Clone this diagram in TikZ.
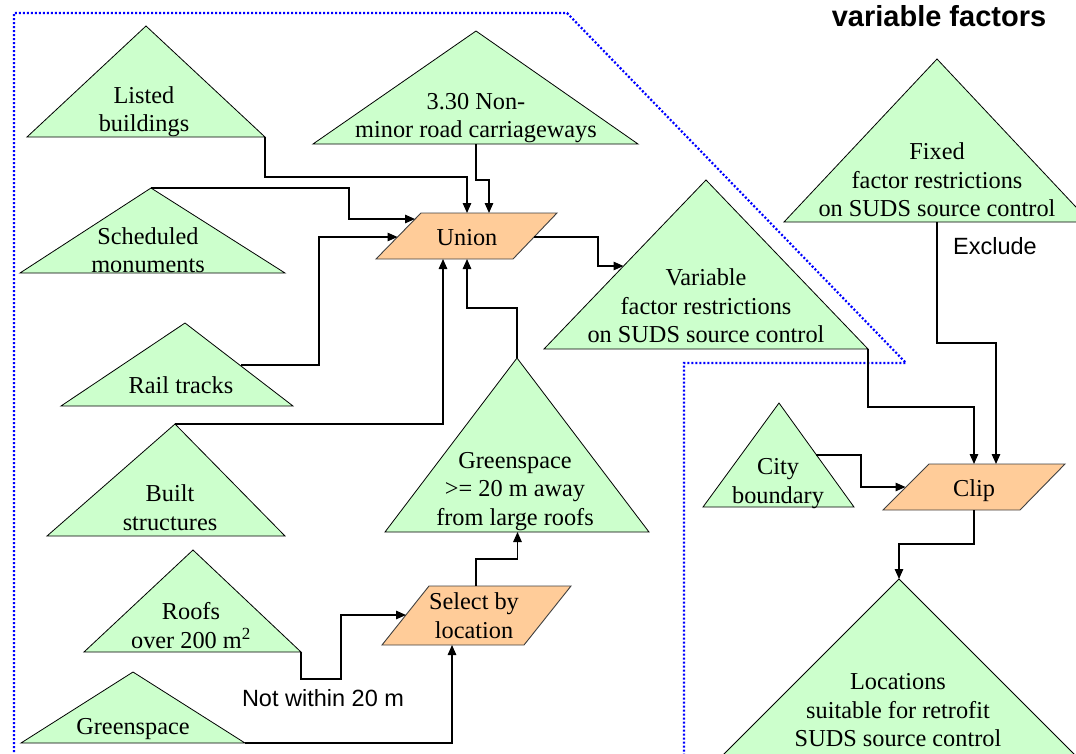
\documentclass[tikz,border=0pt]{standalone}
\usepackage{fontspec}
\setmainfont{Liberation Serif}
\setsansfont{Liberation Sans}
\usetikzlibrary{arrows.meta}

\definecolor{trigreen}{HTML}{CCFFCC}
\definecolor{paraorange}{HTML}{FFCC99}

\tikzset{
  tri/.style={draw=black, fill=trigreen, line width=0.8pt, line join=miter},
  para/.style={draw=black!75, fill=paraorange, line width=0.9pt},
  link/.style={draw=black, line width=1.3pt, -{Triangle[length=10pt,width=8.5pt]}},
  txt/.style={font=\fontsize{24.3}{28.5}\selectfont, inner sep=0pt, anchor=base},
  lab/.style={font=\sffamily\fontsize{23.5}{28}\selectfont, inner sep=0pt, anchor=base},
  zone/.style={draw=blue, line width=2.2pt, dash pattern=on 2pt off 2pt},
}

% green layer triangle: name, apex x, apex y, left x, right x, base y
\newcommand\gtri[6]{%
  \coordinate (#1-a) at (#2,#3);
  \coordinate (#1-l) at (#4,#6);
  \coordinate (#1-r) at (#5,#6);
  \path[tri] (#1-a) -- (#1-l) -- (#1-r) -- cycle;}
% orange operation box: name, top-left x, top-right x, top y, bottom-left x, bottom-right x, bottom y
\newcommand\opbox[7]{%
  \coordinate (#1-tl) at (#2,#4);
  \coordinate (#1-tr) at (#3,#4);
  \coordinate (#1-bl) at (#5,#7);
  \coordinate (#1-br) at (#6,#7);
  \path[para] (#1-tl) -- (#1-tr) -- (#1-br) -- (#1-bl) -- cycle;}
\newcommand\stacked[1]{\begin{tabular}[b]{@{}c@{}}#1\end{tabular}}

\begin{document}
\begin{tikzpicture}[x=1pt,y=-1pt]
\useasboundingbox (0,0) rectangle (1076,753);

% area of the variable factors
\draw[zone] (14,760) -- (14,13) -- (567,13) -- (906,363) -- (684,363) -- (684,760);

% input layers
\gtri{lb}{146}{26}{27}{265}{137}
\gtri{nm}{476}{31}{313}{638}{144}
\gtri{sm}{151}{188}{20}{285}{273}
\gtri{rt}{185}{323}{61}{293}{406}
\gtri{bs}{175}{424}{47}{285}{536}
\gtri{rf}{193}{550}{84}{301}{652}
\gtri{gs}{133}{672}{21}{245}{743}
\gtri{gt}{517}{358}{385}{649}{532}
\gtri{vf}{706}{180}{544}{868}{349}
\gtri{fx}{937}{59}{784}{1090}{222}
\gtri{cb}{779}{403}{703}{854}{507}
\gtri{lo}{899}{579}{720}{1078}{758}

% operations
\opbox{un}{421}{557}{213}{376}{513}{259}
\opbox{sl}{429}{571}{586}{382}{524}{645}
\opbox{cl}{929}{1065}{464}{883}{1020}{510}

% connection points
\coordinate (nm-o) at (476,144);
\coordinate (rt-o) at (241,365);
\coordinate (fx-o) at (937,222);
\coordinate (cb-o) at (816,455);
\coordinate (un-t1) at (467,213);
\coordinate (un-t2) at (489,213);
\coordinate (un-l1) at (415,219);
\coordinate (un-l2) at (397.5,237);
\coordinate (un-b1) at (443,259);
\coordinate (un-b2) at (467,259);
\coordinate (un-o) at (534,237);
\coordinate (vf-in) at (623.5,266);
\coordinate (sl-l) at (406,615);
\coordinate (sl-b) at (452,645);
\coordinate (sl-t) at (476,586);
\coordinate (gt-b) at (517.5,532);
\coordinate (cl-t1) at (974,464);
\coordinate (cl-t2) at (996,464);
\coordinate (cl-l) at (905.5,487);
\coordinate (cl-b) at (974,510);

% connectors
\draw[link] (lb-r) -- ++(0,40) -| (un-t1);
\draw[link] (nm-o) -- ++(0,36) -| (un-t2);
\draw[link] (sm-a) -- ++(198,0) |- (un-l1);
\draw[link] (rt-o) -- ++(78,0) |- (un-l2);
\draw[link] (bs-a) -| (un-b1);
\draw[link] (gt-a) -- ++(0,-50) -| (un-b2);
\draw[link] (un-o) -- ++(64,0) |- (vf-in);
\draw[link] (rf-r) -- ++(0,27) -- ++(40,0) |- (sl-l);
\draw[link] (gs-r) -| (sl-b);
\draw[link] (sl-t) -- ++(0,-27) -| (gt-b);
\draw[link] (vf-r) -- ++(0,58) -| (cl-t1);
\draw[link] (fx-o) -- ++(0,121) -| (cl-t2);
\draw[link] (cb-o) -- ++(45,0) |- (cl-l);
\draw[link] (cl-b) -- ++(0,34) -| (lo-a);

% texts
\node[txt] (lbt) at (144,131.7) {\stacked{Listed\\buildings}};
\node[txt] (nmt) at (476,137.5) {\stacked{3.30 Non-\\minor road carriageways}};
\node[txt] (smt) at (148,272.7) {\stacked{Scheduled\\monuments}};
\node[txt] (rtt) at (181,393.3) {Rail tracks};
\node[txt] (bst) at (170,530) {\stacked{Built\\structures}};
\node[txt] (rft) at (191,648.3) {\stacked{Roofs\\over 200 m\textsuperscript{2}}};
\node[txt] (gst) at (133,734.3) {Greenspace};
\node[txt] (gtt) at (515,525) {\stacked{Greenspace\\>= 20 m away\\from large roofs}};
\node[txt] (vft) at (706,342.7) {\stacked{Variable\\factor restrictions\\on SUDS source control}};
\node[txt] (fxt) at (937,216.7) {\stacked{Fixed\\factor restrictions\\on SUDS source control}};
\node[txt] (cbt) at (778,503.3) {\stacked{City\\boundary}};
\node[txt] (lot) at (898,746.7) {\stacked{Locations\\suitable for retrofit\\SUDS source control}};
\node[txt] (unt) at (467,245) {Union};
\node[txt] (slt) at (474,638.3) {\stacked{Select by\\location}};
\node[txt] (clt) at (974,496.7) {Clip};

\node[lab, anchor=base west] (exl) at (953,254) {Exclude};
\node[lab] (nwl) at (323,706) {Not within 20 m};
\node[lab, font=\sffamily\bfseries\fontsize{29}{34}\selectfont] (vfl) at (939,26) {variable factors};
\end{tikzpicture}
\end{document}
